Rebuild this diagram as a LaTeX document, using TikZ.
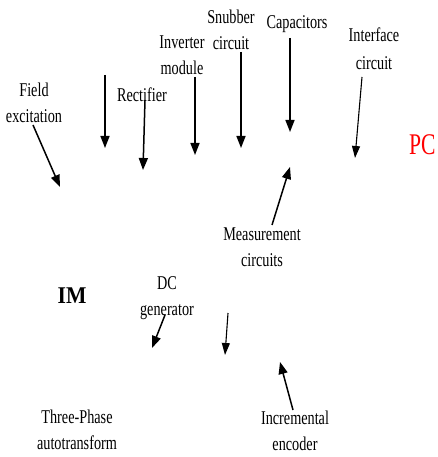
\documentclass[tikz,border=0pt]{standalone}
\usepackage{fontspec}
\setmainfont{Liberation Serif}[FakeStretch=0.73]
\newfontfamily\imfont{Liberation Serif}[FakeStretch=0.9]
\newfontfamily\pcfont{Liberation Serif}[FakeStretch=0.72]
\usetikzlibrary{arrows.meta}
\begin{document}
\begin{tikzpicture}[x=1pt,y=-1pt,
  lbl/.style={inner sep=0pt,align=center,font=\fontsize{19.5}{26}\selectfont},
  arr/.style={line width=1.5pt,-{Triangle[length=12pt,width=9pt]}},
  thinarr/.style={line width=1.1pt,-{Triangle[length=12pt,width=8pt]}}]
\useasboundingbox (0,0) rectangle (437,457);
\fill[white] (0,0) rectangle (437,457);
% labels
\node[lbl] (field) at (34,103) {Field\\excitation};
\node[lbl] (rect) at (142,95) {Rectifier};
\node[lbl] (inv) at (182,55) {Inverter\\module};
\node[lbl] (snub) at (231,30) {Snubber\\circuit};
\node[lbl] (cap) at (297,24) {Capacitors};
\node[lbl,font=\fontsize{19.5}{28}\selectfont] (intf) at (374,49) {Interface\\circuit};
\node[inner sep=0pt,anchor=west,text=red,font=\pcfont\fontsize{30}{30}\selectfont] (pc) at (409,145) {PC};
\node[lbl] (meas) at (262,247) {Measurement\\circuits};
\node[inner sep=0pt,font=\imfont\bfseries\fontsize{24}{24}\selectfont] (im) at (72,296) {IM};
\node[lbl] (dcg) at (167,298) {DC\\generator};
\node[lbl] (three) at (77,430) {Three-Phase\\autotransform};
\node[lbl] (enc) at (295,431) {Incremental\\encoder};
% arrow end points
\coordinate (a1s) at (33,125);  \coordinate (a1e) at (60,187);
\coordinate (a2s) at (105,75);  \coordinate (a2e) at (105,148);
\coordinate (a3s) at (145,100); \coordinate (a3e) at (143,170);
\coordinate (a4s) at (195,77);  \coordinate (a4e) at (195,155);
\coordinate (a5s) at (241,52);  \coordinate (a5e) at (241,148);
\coordinate (a6s) at (290,38);  \coordinate (a6e) at (290,132);
\coordinate (a7s) at (362,77);  \coordinate (a7e) at (355,158);
\coordinate (a8s) at (272,225); \coordinate (a8e) at (290,167);
\coordinate (a9s) at (228,313); \coordinate (a9e) at (225,355);
\coordinate (a10s) at (293,410); \coordinate (a10e) at (280,362);
\coordinate (a11s) at (165,315); \coordinate (a11e) at (152,348);
% arrows
\draw[arr] (a1s) -- (a1e);
\draw[arr] (a2s) -- (a2e);
\draw[arr] (a3s) -- (a3e);
\draw[arr] (a4s) -- (a4e);
\draw[arr] (a5s) -- (a5e);
\draw[arr] (a6s) -- (a6e);
\draw[thinarr] (a7s) -- (a7e);
\draw[arr] (a8s) -- (a8e);
\draw[thinarr] (a9s) -- (a9e);
\draw[arr] (a10s) -- (a10e);
\draw[arr] (a11s) -- (a11e);
\end{tikzpicture}
\end{document}
